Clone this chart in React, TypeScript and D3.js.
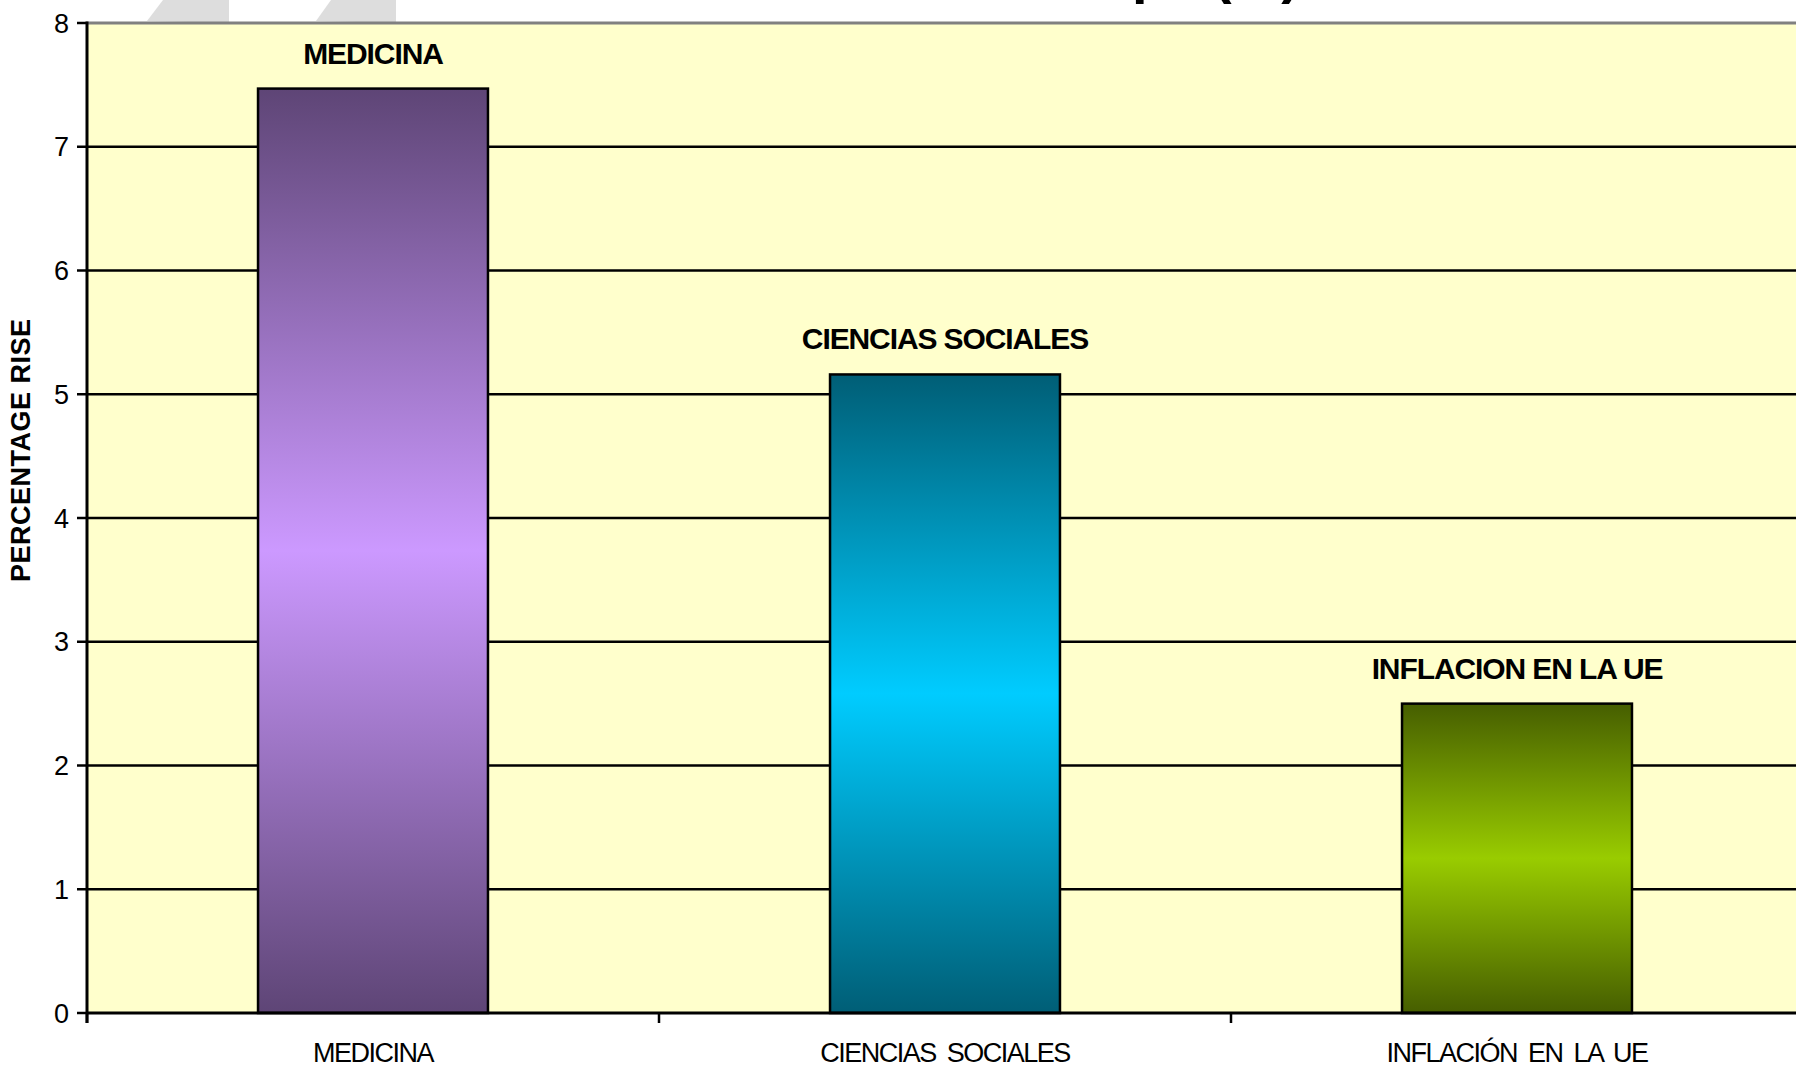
import React from "react";
import * as d3 from "d3";

const categories = ["MEDICINA", "CIENCIAS SOCIALES", "INFLACIÓN EN LA UE"];
const barLabels = ["MEDICINA", "CIENCIAS SOCIALES", "INFLACION EN LA UE"];
const values = [7.47, 5.16, 2.5];
const yTicks = [0, 1, 2, 3, 4, 5, 6, 7, 8];
const gradientStops = [
  ["#5E4576", "#CC99FF"],
  ["#005E76", "#00CCFF"],
  ["#465E00", "#99CC00"],
];
const title = "Aumentos salariales en Europa (%)";
const yAxisTitle = "PERCENTAGE RISES";

const W = 1796;
const H = 1065;
const plotLeft = 87;
const plotRight = 1803;
const plotTop = 23;
const plotBottom = 1013;
const FONT = "'Liberation Sans', Arial, Helvetica, sans-serif";

export default function App() {
  const x = d3.scaleBand<string>().domain(categories).range([plotLeft, plotRight]).padding(0);
  const y = d3.scaleLinear().domain([0, 8]).range([plotBottom, plotTop]);
  const barW = x.bandwidth() * 0.402;

  return (
    <svg
      width={W}
      height={H}
      viewBox={`0 0 ${W} ${H}`}
      style={{ position: "absolute", left: 0, top: 0, background: "#ffffff" }}
    >
      <defs>
        {gradientStops.map((g, i) => (
          <linearGradient key={i} id={`grad${i}`} x1="0" y1="0" x2="0" y2="1">
            <stop offset="0%" stopColor={g[0]} />
            <stop offset="50%" stopColor={g[1]} />
            <stop offset="100%" stopColor={g[0]} />
          </linearGradient>
        ))}
        <clipPath id="ylabclip">
          <rect x={0} y={318} width={60} height={400} />
        </clipPath>
      </defs>

      {/* faint background decoration */}
      <polygon points="147,21 163,0 229,0 229,23" fill="#DDDDDD" />
      <polygon points="316,21 331,0 396,0 396,23" fill="#DDDDDD" />

      {/* title (mostly cut off at the top, as in the reference) */}
      <text
        x={1300}
        y={-8}
        textAnchor="end"
        fontFamily={FONT}
        fontWeight="bold"
        fontSize={56}
        fill="#000"
      >
        {title}
      </text>

      {/* plot background */}
      <rect x={plotLeft} y={plotTop} width={plotRight - plotLeft} height={plotBottom - plotTop} fill="#FFFFCC" />

      {/* gridlines */}
      {yTicks.slice(1, -1).map((t) => (
        <line key={t} x1={plotLeft} x2={plotRight} y1={y(t)} y2={y(t)} stroke="#000" strokeWidth={2.5} />
      ))}
      {/* top border */}
      <line x1={plotLeft} x2={plotRight} y1={plotTop} y2={plotTop} stroke="#808080" strokeWidth={3} />

      {/* bars */}
      {categories.map((c, i) => {
        const bx = (x(c) as number) + (x.bandwidth() - barW) / 2;
        return (
          <g key={c}>
            <rect
              x={bx}
              y={y(values[i])}
              width={barW}
              height={y(0) - y(values[i])}
              fill={`url(#grad${i})`}
              stroke="#000"
              strokeWidth={2.5}
            />
            <text
              x={bx + barW / 2}
              y={y(values[i]) - 25}
              textAnchor="middle"
              fontFamily={FONT}
              fontWeight="bold"
              fontSize={30}
              letterSpacing={-1.1}
              fill="#000"
            >
              {barLabels[i]}
            </text>
          </g>
        );
      })}

      {/* y axis */}
      <line x1={plotLeft} x2={plotLeft} y1={plotTop - 1.5} y2={plotBottom + 10} stroke="#000" strokeWidth={3} />
      {yTicks.map((t) => (
        <g key={t}>
          <line x1={plotLeft - 10} x2={plotLeft} y1={y(t)} y2={y(t)} stroke="#000" strokeWidth={2.5} />
          <text
            x={69}
            y={y(t)}
            dy="0.36em"
            textAnchor="end"
            fontFamily={FONT}
            fontSize={27}
            fill="#000"
          >
            {t}
          </text>
        </g>
      ))}

      {/* x axis */}
      <line x1={plotLeft} x2={plotRight} y1={plotBottom} y2={plotBottom} stroke="#000" strokeWidth={3} />
      {categories.map((c) => (
        <line
          key={c}
          x1={x(c) as number}
          x2={x(c) as number}
          y1={plotBottom}
          y2={plotBottom + 10}
          stroke="#000"
          strokeWidth={2.5}
        />
      ))}
      {categories.map((c) => (
        <text
          key={c}
          x={(x(c) as number) + x.bandwidth() / 2}
          y={1062}
          textAnchor="middle"
          fontFamily={FONT}
          fontSize={27}
          letterSpacing={-1.5}
          wordSpacing={5}
          fill="#000"
        >
          {c}
        </text>
      ))}

      {/* y axis title */}
      <g clipPath="url(#ylabclip)">
        <text
          transform={`translate(30, 582) rotate(-90)`}
          textAnchor="start"
          fontFamily={FONT}
          fontWeight="bold"
          fontSize={27}
          letterSpacing={0.5}
          fill="#000"
        >
          {yAxisTitle}
        </text>
      </g>
    </svg>
  );
}
